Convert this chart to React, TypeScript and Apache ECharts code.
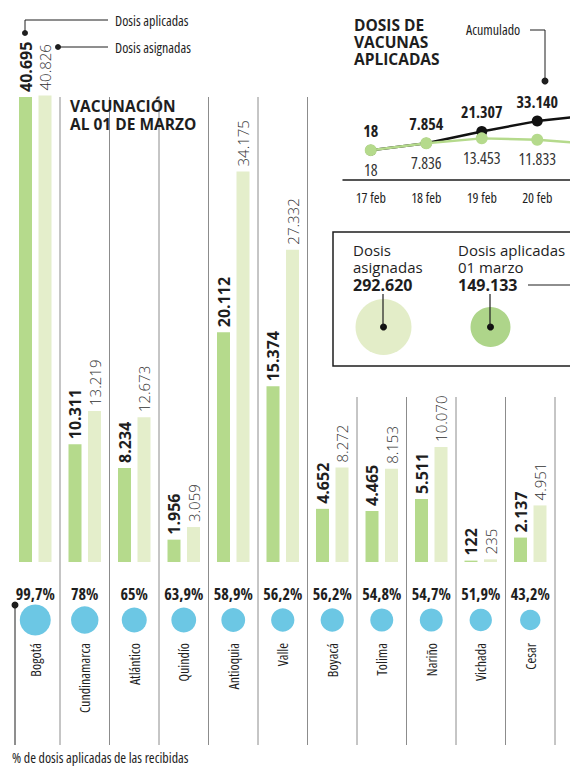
import React, { useEffect, useRef } from "react";
import * as echarts from "echarts";

const categories = ["Bogotá", "Cundinamarca", "Atlántico", "Quindío", "Antioquia", "Valle", "Boyacá", "Tolima", "Nariño", "Vichada", "Cesar"];
const applied = [40695, 10311, 8234, 1956, 20112, 15374, 4652, 4465, 5511, 122, 2137];
const assigned = [40826, 13219, 12673, 3059, 34175, 27332, 8272, 8153, 10070, 235, 4951];
const pctApplied = [99.7, 78, 65, 63.9, 58.9, 56.2, 56.2, 54.8, 54.7, 51.9, 43.2];

const days = ["17 feb", "18 feb", "19 feb", "20 feb", "21 feb"];
const dailyDoses = [18, 7836, 13453, 11833, 7000];
const cumulativeDoses = [18, 7854, 21307, 33140, 40140];

const totalAssigned = 292620;
const totalApplied = 149133;

const GREEN = "#b5da8c";
const PALE = "#e4eecb";
const BLUE = "#6cc7e4";
const INK = "#1e1e1e";
const COND = "Open Sans;font-stretch:75%";
const SANS = '"Open Sans", "Noto Sans", sans-serif';

const fmtInt = (v: number) => String(v).replace(/\B(?=(\d{3})+(?!\d))/g, ".");
const fmtPct = (v: number) => String(v).replace(".", ",") + "%";

export default function App() {
  const ref = useRef<HTMLDivElement>(null);
  useEffect(() => {
    if (!ref.current) return;
    const chart = echarts.init(ref.current, null, { renderer: "svg" });

    const colLeft = 10.5;
    const colW = 49.5;
    const dividers: any[] = [];
    for (let i = 1; i <= categories.length; i++) {
      const x = colLeft + colW * i;
      dividers.push({
        type: "line",
        shape: { x1: x, y1: i <= 6 ? 97 : 397, x2: x, y2: 745 },
        style: { stroke: "#8c8c8c", lineWidth: 1 },
        silent: true,
      });
    }

    const txt = (text: string, x: number, y: number, size: number, weight: string, family: string, extra: any = {}) => ({
      type: "text",
      x,
      y,
      style: { text, fontSize: size, fontWeight: weight, fontFamily: family, fill: INK, verticalAlign: "middle", align: "left", ...extra },
      silent: true,
    });

    const option: any = {
      animation: false,
      grid: [
        { left: 10.5, right: 15, top: 13.5, bottom: 204, outerBoundsMode: "none" },
        { left: 10.5, right: 15, top: 600, height: 40, outerBoundsMode: "none" },
        { left: 343, width: 277.5, top: 80, height: 100, outerBoundsMode: "none" },
        { left: 330, width: 214, top: 310, height: 34, outerBoundsMode: "none" },
      ],
      xAxis: [
        { type: "category", gridIndex: 0, data: categories, show: false },
        {
          type: "category",
          gridIndex: 1,
          data: categories,
          axisLine: { show: false },
          axisTick: { show: false },
          axisLabel: { interval: 0, rotate: 90, margin: 3, fontSize: 14, fontFamily: COND, color: INK },
        },
        {
          type: "category",
          gridIndex: 2,
          data: days,
          axisLine: { onZero: false, lineStyle: { color: INK, width: 1.5 } },
          axisTick: { inside: true, length: 6, lineStyle: { color: INK, width: 1.5 } },
          axisLabel: {
            interval: 0,
            margin: 12,
            fontSize: 14,
            fontFamily: COND,
            color: INK,
            formatter: (v: string, i: number) => (i < 4 ? v : ""),
          },
        },
        { type: "category", gridIndex: 3, data: ["asignadas", "aplicadas"], show: false },
      ],
      yAxis: [
        { type: "value", gridIndex: 0, min: 0, max: 48000, show: false },
        { type: "value", gridIndex: 1, min: 0, max: 1, show: false },
        { type: "value", gridIndex: 2, min: -34000, max: 80000, show: false },
        { type: "value", gridIndex: 3, min: 0, max: 1, show: false },
      ],
      series: [
        {
          type: "bar",
          name: "Dosis aplicadas",
          xAxisIndex: 0,
          yAxisIndex: 0,
          data: applied,
          barWidth: 13,
          barGap: "50%",
          itemStyle: { color: GREEN },
          label: {
            show: true,
            position: "top",
            rotate: 90,
            align: "left",
            verticalAlign: "middle",
            distance: 5,
            fontSize: 16,
            fontWeight: "bold",
            fontFamily: SANS,
            color: INK,
            formatter: (p: any) => fmtInt(p.value),
          },
        },
        {
          type: "bar",
          name: "Dosis asignadas",
          xAxisIndex: 0,
          yAxisIndex: 0,
          data: assigned,
          barWidth: 13,
          itemStyle: { color: PALE },
          label: {
            show: true,
            position: "top",
            rotate: 90,
            align: "left",
            verticalAlign: "middle",
            distance: 5,
            fontSize: 15,
            fontWeight: 300,
            fontFamily: SANS,
            color: "#333",
            formatter: (p: any) => fmtInt(p.value),
          },
        },
        {
          type: "scatter",
          xAxisIndex: 1,
          yAxisIndex: 1,
          data: pctApplied.map((_p, i) => [i, 0.5]),
          symbolSize: (_v: any, p: any) => 31 * Math.sqrt(pctApplied[p.dataIndex] / 99.7),
          itemStyle: { color: BLUE, opacity: 1 },
          label: {
            show: true,
            position: "inside",
            offset: [0, -26],
            fontSize: 16,
            fontWeight: "bold",
            fontFamily: COND,
            color: INK,
            formatter: (p: any) => fmtPct(pctApplied[p.dataIndex]),
          },
        },
        {
          type: "line",
          name: "Acumulado",
          xAxisIndex: 2,
          yAxisIndex: 2,
          data: cumulativeDoses,
          symbol: "circle",
          symbolSize: 11,
          lineStyle: { color: "#111", width: 2.5 },
          itemStyle: { color: "#111" },
          label: {
            show: true,
            position: "top",
            distance: 6,
            fontSize: 16,
            fontWeight: "bold",
            fontFamily: COND,
            color: INK,
            formatter: (p: any) => (p.dataIndex < 4 ? fmtInt(p.value) : ""),
          },
        },
        {
          type: "line",
          name: "Diario",
          xAxisIndex: 2,
          yAxisIndex: 2,
          data: dailyDoses,
          symbol: "circle",
          symbolSize: 12,
          lineStyle: { color: GREEN, width: 2.5 },
          itemStyle: { color: GREEN },
          z: 3,
          label: {
            show: true,
            position: "bottom",
            distance: 6,
            fontSize: 16,
            fontFamily: COND,
            color: "#333",
            formatter: (p: any) => (p.dataIndex < 4 ? fmtInt(p.value) : ""),
          },
        },
        {
          type: "scatter",
          xAxisIndex: 3,
          yAxisIndex: 3,
          data: [
            { value: [0, 0.5], itemStyle: { color: "#e3edc8" } },
            { value: [1, 0.5], itemStyle: { color: "#aed58a" } },
          ],
          symbolSize: (_v: any, p: any) =>
            56 * Math.sqrt((p.dataIndex === 0 ? totalAssigned : totalApplied) / totalAssigned),
          itemStyle: { opacity: 1 },
        },
        {
          type: "scatter",
          xAxisIndex: 3,
          yAxisIndex: 3,
          data: [[0, 0.5], [1, 0.5]],
          symbolSize: 7,
          itemStyle: { color: "#111", opacity: 1 },
          z: 5,
        },
      ],
      graphic: [
        ...dividers,
        { type: "polyline", shape: { points: [[25, 33], [25, 20], [108, 20]] }, style: { stroke: INK, lineWidth: 1, fill: null }, silent: true },
        { type: "circle", shape: { cx: 25, cy: 33, r: 3 }, style: { fill: INK }, silent: true },
        txt("Dosis aplicadas", 115, 20, 14, "normal", COND),
        { type: "line", shape: { x1: 58, y1: 47, x2: 108, y2: 47 }, style: { stroke: INK, lineWidth: 1 }, silent: true },
        { type: "circle", shape: { cx: 58, cy: 47, r: 3 }, style: { fill: INK }, silent: true },
        txt("Dosis asignadas", 115, 47, 14, "normal", COND),
        txt("VACUNACIÓN", 70, 106, 15.5, "bold", SANS),
        txt("AL 01 DE MARZO", 70, 124, 15.5, "bold", SANS),
        txt("DOSIS DE", 354, 25, 15.5, "bold", SANS),
        txt("VACUNAS", 354, 42, 15.5, "bold", SANS),
        txt("APLICADAS", 354, 59, 15.5, "bold", SANS),
        txt("Acumulado", 466, 29, 14, "normal", COND),
        { type: "polyline", shape: { points: [[530, 30], [545, 30], [545, 81]] }, style: { stroke: INK, lineWidth: 1, fill: null }, silent: true },
        { type: "circle", shape: { cx: 545, cy: 81, r: 3.5 }, style: { fill: INK }, silent: true },
        { type: "rect", shape: { x: 333, y: 232, width: 260, height: 134 }, style: { stroke: INK, lineWidth: 1.5, fill: null }, silent: true },
        txt("Dosis", 353, 250, 15, "normal", SANS),
        txt("asignadas", 353, 267, 15, "normal", SANS),
        txt(fmtInt(totalAssigned), 353, 285, 16, "bold", SANS),
        txt("Dosis aplicadas", 458, 250, 15, "normal", SANS),
        txt("01 marzo", 458, 267, 15, "normal", SANS),
        txt(fmtInt(totalApplied), 458, 285, 16, "bold", SANS),
        { type: "line", shape: { x1: 383, y1: 294, x2: 383, y2: 327 }, style: { stroke: INK, lineWidth: 1.2 }, silent: true, z: 10 },
        { type: "line", shape: { x1: 490, y1: 294, x2: 490, y2: 327 }, style: { stroke: INK, lineWidth: 1.2 }, silent: true, z: 10 },
        { type: "line", shape: { x1: 528, y1: 285, x2: 575, y2: 285 }, style: { stroke: INK, lineWidth: 1.2 }, silent: true },
        { type: "line", shape: { x1: 15, y1: 605, x2: 15, y2: 745 }, style: { stroke: INK, lineWidth: 1 }, silent: true },
        { type: "circle", shape: { cx: 15, cy: 605, r: 3.5 }, style: { fill: INK }, silent: true },
        txt("% de dosis aplicadas de las recibidas", 12, 757, 14, "normal", COND),
      ],
    };
    chart.setOption(option);
    return () => chart.dispose();
  }, []);
  return (
    <div
      ref={ref}
      style={{ position: "fixed", left: 0, top: 0, width: 570, height: 766, background: "#fff" }}
    />
  );
}
